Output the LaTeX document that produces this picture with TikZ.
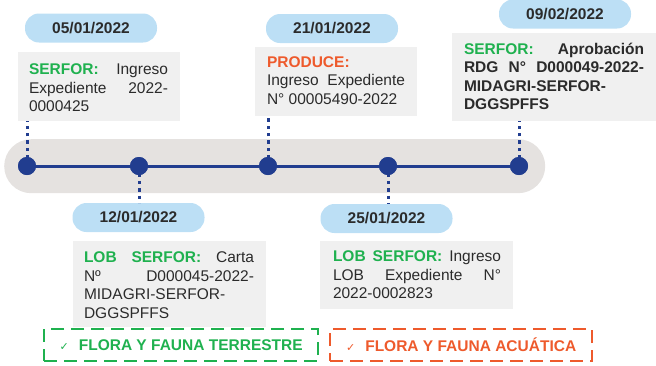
\documentclass[tikz,border=0pt]{standalone}
\usepackage{fontspec}
\setmainfont{Liberation Sans}
\newfontfamily\symfont{DejaVu Sans}
\definecolor{tlblue}{HTML}{213D8F}
\definecolor{bandgray}{HTML}{E5E2E0}
\definecolor{pillblue}{HTML}{BCDFF5}
\definecolor{boxgray}{HTML}{F0F0F0}
\definecolor{tlgreen}{HTML}{1FB14F}
\definecolor{tlorange}{HTML}{EE5A2C}
\definecolor{txtdark}{HTML}{2B2B2B}
\newcommand\Gtxt[1]{\textcolor{tlgreen}{\textbf{#1}}}
\newcommand\Otxt[1]{\textcolor{tlorange}{\textbf{#1}}}
\begin{document}
\begin{tikzpicture}[x=1pt,y=-1pt,
  basefont/.style={font=\fontsize{15.5pt}{18.5pt}\selectfont},
  pill/.style={basefont, font=\fontsize{15.5pt}{18.5pt}\selectfont\bfseries, text=txtdark, fill=pillblue, rounded corners=14pt, minimum width=132pt, minimum height=29pt, inner sep=0pt, outer sep=0pt},
  gbox/.style={fill=boxgray, inner sep=0pt, outer sep=0pt, anchor=north west},
  txt/.style={basefont, text=txtdark, align=left, inner sep=0pt, outer sep=0pt, anchor=north west},
  dot/.style={circle, fill=tlblue, minimum size=18pt, inner sep=0pt, outer sep=0pt},
  dotline/.style={draw=tlblue, line width=3pt, dash pattern=on 3.4pt off 4pt},
  tag/.style={line width=2.3pt, dash pattern=on 13pt off 7pt, minimum width=274pt, minimum height=32pt, inner sep=0pt, anchor=north west, font=\fontsize{15.5pt}{18.5pt}\selectfont\bfseries}
]
\useasboundingbox (0,0) rectangle (656,365);
% band
\node[fill=bandgray, rounded corners=27pt, minimum width=541pt, minimum height=54pt, inner sep=0pt, anchor=north west] (band) at (4,139) {};
% gray boxes
\node[gbox, minimum width=162pt, minimum height=69pt] (b1) at (18,52) {};
\node[gbox, minimum width=162pt, minimum height=69pt] (b3) at (255,47) {};
\node[gbox, minimum width=204pt, minimum height=88pt] (b4) at (452,33) {};
\node[gbox, minimum width=193pt, minimum height=86pt] (b2) at (73,241) {};
\node[gbox, minimum width=193pt, minimum height=68pt] (b5) at (320,241) {};
% pills
\node[pill] (p1) at (91,28) {05/01/2022};
\node[pill] (p3) at (332,28.5) {21/01/2022};
\node[pill] (p4) at (565,14) {09/02/2022};
\node[pill] (p2) at (138.5,217.5) {12/01/2022};
\node[pill] (p5) at (386.5,218.5) {25/01/2022};
% dots
\node[dot] (d1) at (27,166) {};
\node[dot] (d2) at (139,166) {};
\node[dot] (d3) at (268,166) {};
\node[dot] (d4) at (388,166) {};
\node[dot] (d5) at (519,166) {};
% connectors
\draw[dotline] (d1.center) -- (d1 |- b1.south);
\draw[dotline] (d3.center) -- (d3 |- b3.south);
\draw[dotline] (d5.center) -- (d5 |- b4.south);
\draw[dotline] (d2.center) -- (d2 |- p2.north);
\draw[dotline] (d4.center) -- (d4 |- p5.north);
\draw[tlblue, line width=3pt] (d1.center) -- (d5.center);
\foreach \d in {d1,d2,d3,d4,d5} \fill[tlblue] (\d) circle (9pt);
% texts
\node[txt] (t1) at (29,62) {\strut\hbox to 139pt{\Gtxt{SERFOR:}\hfill Ingreso}\\
\strut\hbox to 139pt{Expediente\hfill 2022-}\\
\strut 0000425};
\node[txt] (t3) at (267,54.5) {\strut\Otxt{PRODUCE:}\\
\strut\hbox to 138pt{Ingreso\hfill Expediente}\\
\strut N° 00005490-2022};
\node[txt, font=\fontsize{15.5pt}{18.5pt}\selectfont\bfseries] (t4) at (464,41.5) {\strut\hbox to 180pt{\Gtxt{SERFOR:}\hfill Aprobación}\\
\strut\hbox to 180pt{RDG\hfill N°\hfill D000049-2022-}\\
\strut MIDAGRI-SERFOR-\\
\strut DGGSPFFS};
\node[txt] (t2) at (84,250) {\strut\hbox to 170pt{\Gtxt{LOB}\hfill\Gtxt{SERFOR:}\hfill Carta}\\
\strut\hbox to 170pt{Nº\hfill D000045-2022-}\\
\strut MIDAGRI-SERFOR-\\
\strut DGGSPFFS};
\node[txt] (t5) at (333,249) {\strut\hbox to 168pt{\Gtxt{LOB}\hfill\Gtxt{SERFOR:}\hfill Ingreso}\\
\strut\hbox to 168pt{LOB\hfill Expediente\hfill N°}\\
\strut 2022-0002823};
% tags
\node[tag, draw=tlgreen, text=tlgreen] (tg) at (43,328) {{\symfont\mdseries\fontsize{11pt}{12pt}\selectfont ✓}\hspace{10pt}FLORA Y FAUNA TERRESTRE};
\node[tag, draw=tlorange, text=tlorange, minimum width=262pt] (to) at (329,328) {{\symfont\mdseries\fontsize{11pt}{12pt}\selectfont ✓}\hspace{10pt}FLORA Y FAUNA ACUÁTICA};
\end{tikzpicture}
\end{document}
